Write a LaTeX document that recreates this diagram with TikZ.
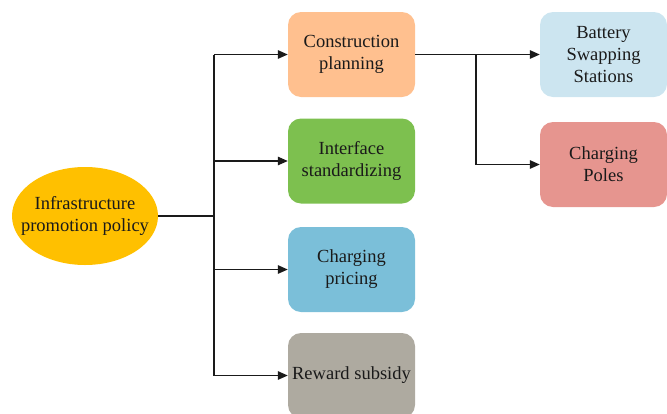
\documentclass[tikz,border=0pt]{standalone}
\usepackage{fontspec}
\setmainfont{Liberation Serif}
\usetikzlibrary{shapes.geometric,arrows.meta}
\definecolor{cOrange}{HTML}{FFC08F}
\definecolor{cGreen}{HTML}{7DC04F}
\definecolor{cBlue}{HTML}{7BBFD9}
\definecolor{cGray}{HTML}{AEAAA0}
\definecolor{cLight}{HTML}{CCE5F0}
\definecolor{cRose}{HTML}{E6958F}
\definecolor{cGold}{HTML}{FFC000}
\definecolor{cText}{HTML}{1A1A1A}
\tikzset{
  label font/.style={font=\fontsize{18.5}{22}\selectfont},
  card/.style={rectangle, rounded corners=13pt, minimum width=127pt, minimum height=85pt,
    inner sep=2pt, align=center, text=cText, label font},
  link/.style={line width=1.3pt, draw=cText},
  arr/.style={link, -{Triangle[length=10pt,width=8.5pt]}}
}
\begin{document}
\begin{tikzpicture}[x=1pt,y=-1pt]
\useasboundingbox (0,0) rectangle (667,413);
% root: fixed-size ellipse with its caption laid on top
\node[ellipse, fill=cGold, minimum width=146pt, minimum height=98pt, inner sep=0pt]
  (root) at (85,216) {};
\node[align=center, text=cText, label font, inner sep=0pt] (rootText) at (root.center)
  {Infrastructure\\promotion policy};
% first level
\node[card, fill=cOrange] (plan) at (351.5,54.5) {Construction\\planning};
\node[card, fill=cGreen]  (intf) at (351.5,161) {Interface\\standardizing};
\node[card, fill=cBlue]   (price) at (351.5,269.5) {Charging\\pricing};
\node[card, fill=cGray]   (reward) at (351.5,375.5) {Reward subsidy};
% second level
\node[card, fill=cLight] (swap) at (603.5,54.5) {Battery\\Swapping\\Stations};
\node[card, fill=cRose]  (poles) at (603.5,164.5) {Charging\\Poles};
% trunk
\coordinate (j) at (214,216);
\coordinate (jt) at (214,54.5);
\coordinate (jb) at (214,375.5);
\draw[link] (root.east) -- (j);
\draw[link] (jt) -- (jb);
\draw[arr] (jt) -- (plan.west);
\draw[arr] (214,161) -- (intf.west);
\draw[arr] (214,269.5) -- (price.west);
\draw[arr] (jb) -- (reward.west);
% branch
\coordinate (k) at (476,54.5);
\draw[arr] (plan.east) -- (swap.west);
\draw[arr] (k) |- (poles.west);
\end{tikzpicture}
\end{document}
